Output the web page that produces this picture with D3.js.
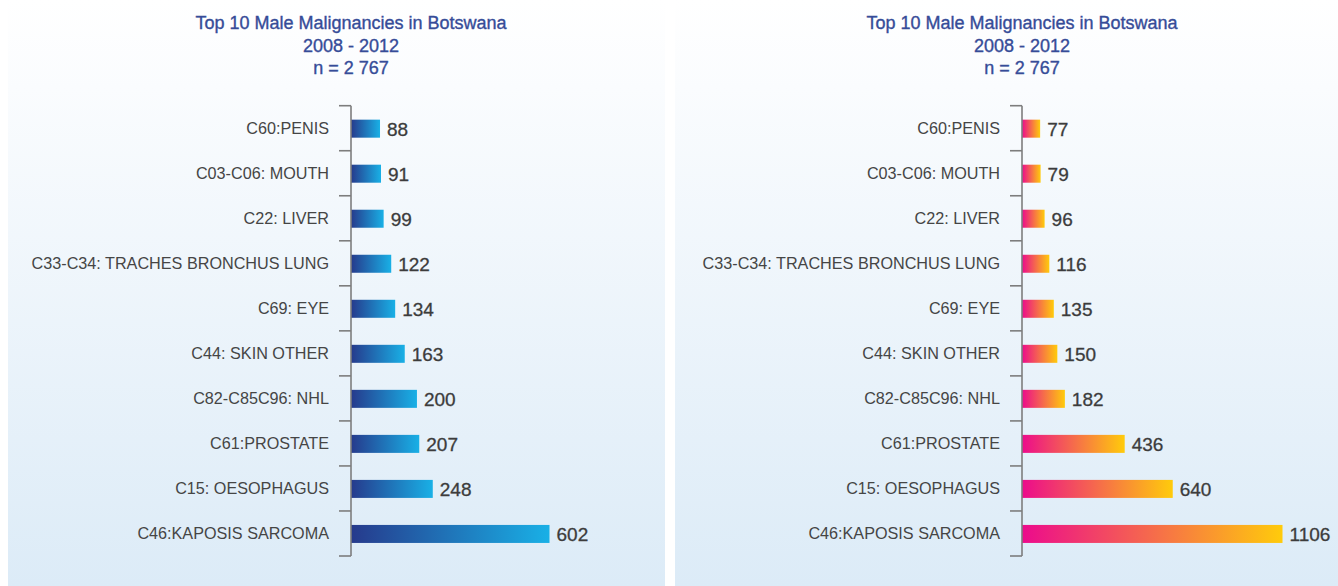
<!DOCTYPE html>
<html>
<head>
<meta charset="utf-8">
<script src="https://cdn.jsdelivr.net/npm/d3@7"></script>
<style>
  html, body { margin: 0; padding: 0; background: #ffffff; }
  svg { display: block; font-family: "Liberation Sans", Arial, Helvetica, sans-serif; }
</style>
</head>
<body>
<div id="chart"></div>
<script>
// chart data
var categories = ['C60:PENIS', 'C03-C06: MOUTH', 'C22: LIVER', 'C33-C34: TRACHES BRONCHUS LUNG',
    'C69: EYE', 'C44: SKIN OTHER', 'C82-C85C96: NHL', 'C61:PROSTATE', 'C15: OESOPHAGUS',
    'C46:KAPOSIS SARCOMA'];
var leftValues = [88, 91, 99, 122, 134, 163, 200, 207, 248, 602];
var rightValues = [77, 79, 96, 116, 135, 150, 182, 436, 640, 1106];
var titleLines = ['Top 10 Male Malignancies in Botswana', '2008 - 2012', 'n = 2 767'];

var W = 1338, H = 586;

var svg = d3.select('#chart').append('svg')
    .attr('width', W)
    .attr('height', H);

var defs = svg.append('defs');

// panel background gradient
var bg = defs.append('linearGradient').attr('id', 'bgGrad')
    .attr('x1', 0).attr('y1', 0).attr('x2', 0).attr('y2', 1);
bg.append('stop').attr('offset', '0%').attr('stop-color', '#ffffff');
bg.append('stop').attr('offset', '15%').attr('stop-color', '#fafcfe');
bg.append('stop').attr('offset', '100%').attr('stop-color', '#dcebf7');

function barGradient(id, c0, c1) {
    var g = defs.append('linearGradient').attr('id', id)
        .attr('x1', 0).attr('y1', 0).attr('x2', 1).attr('y2', 0);
    g.append('stop').attr('offset', '0%').attr('stop-color', c0);
    g.append('stop').attr('offset', '100%').attr('stop-color', c1);
}
barGradient('blueGrad', '#263a8c', '#19b0e6');
barGradient('pinkGrad', '#ec0b8c', '#ffcb0b');

/**
 * Draws one panel
 * @param p - panel settings (position, axis x, scale max, bar gradient)
 * @param values - bar values
 */
function panel(p, values) {
    svg.append('rect')
        .attr('x', p.x0).attr('y', 0)
        .attr('width', p.x1 - p.x0).attr('height', H)
        .attr('fill', 'url(#bgGrad)');

    // title
    var title = svg.append('text')
        .attr('text-anchor', 'middle')
        .attr('fill', '#364c98')
        .attr('stroke', '#364c98')
        .attr('stroke-width', 0.35)
        .style('font-size', '18px');
    title.selectAll('tspan').data(titleLines).enter()
        .append('tspan')
        .attr('x', p.ax)
        .attr('y', function(d, i) { return 29 + i * 22.5; })
        .text(function(d) { return d; });

    // scales
    var y = d3.scaleBand().domain(categories).range([105.7, 556]).padding(0);
    var x = d3.scaleLinear().domain([0, p.max]).range([p.ax, p.ax + p.len]);

    var g = svg.append('g');

    // bars
    g.selectAll('.bar').data(values).enter()
        .append('rect').attr('class', 'bar')
        .attr('x', x(0))
        .attr('y', function(d, i) { return y(categories[i]) + y.bandwidth() * 0.31; })
        .attr('width', function(d) { return x(d) - x(0); })
        .attr('height', y.bandwidth() * 0.4)
        .attr('fill', 'url(#' + p.grad + ')');

    // axis line with ticks at band boundaries
    var edges = categories.map(function(c) { return y(c); }).concat([y.range()[1]]);
    g.append('line')
        .attr('x1', p.ax).attr('x2', p.ax)
        .attr('y1', edges[0]).attr('y2', edges[edges.length - 1])
        .attr('stroke', '#7d7d7d').attr('stroke-width', 1.6);
    g.selectAll('.tick').data(edges).enter()
        .append('line').attr('class', 'tick')
        .attr('x1', p.ax - 12).attr('x2', p.ax)
        .attr('y1', function(d) { return d; })
        .attr('y2', function(d) { return d; })
        .attr('stroke', '#7d7d7d').attr('stroke-width', 1.6);

    // category labels
    g.selectAll('.cat').data(categories).enter()
        .append('text').attr('class', 'cat')
        .attr('x', p.ax - 22)
        .attr('y', function(d) { return y(d) + y.bandwidth() / 2; })
        .attr('dy', '0.35em')
        .attr('text-anchor', 'end')
        .attr('fill', '#454545')
        .style('font-size', '16.2px')
        .text(function(d) { return d; });

    // value labels
    g.selectAll('.val').data(values).enter()
        .append('text').attr('class', 'val')
        .attr('x', function(d) { return x(d) + 7; })
        .attr('y', function(d, i) { return y(categories[i]) + y.bandwidth() / 2 + 1; })
        .attr('dy', '0.36em')
        .attr('fill', '#3c3c3c')
        .attr('stroke', '#3c3c3c')
        .attr('stroke-width', 0.3)
        .style('font-size', '19px')
        .text(function(d) { return d; });
}

panel({x0: 8, x1: 665, ax: 351, len: 198.5, max: 602, grad: 'blueGrad'}, leftValues);
panel({x0: 675, x1: 1338, ax: 1022, len: 260.5, max: 1106, grad: 'pinkGrad'}, rightValues);
</script>
</body>
</html>
